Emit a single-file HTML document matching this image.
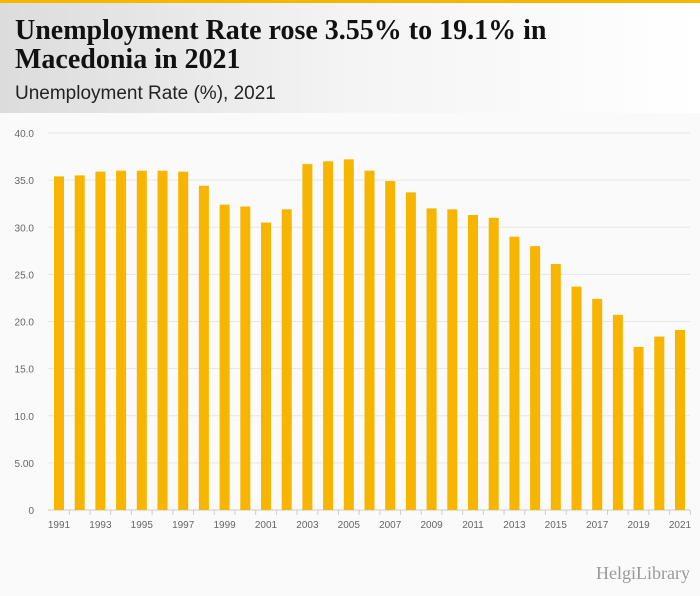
<!DOCTYPE html>
<html><head><meta charset="utf-8"><style>
body{margin:0;width:700px;height:596px;background:#fafafa;font-family:"Liberation Sans",sans-serif;overflow:hidden;position:relative}
#hdr{position:absolute;left:0;top:0;width:700px;height:113px;background:linear-gradient(90deg,#dcdcdc 0%,#f4f4f4 50%,#fff 100%);border-top:3px solid #f7b500;box-sizing:border-box}
h1{position:absolute;left:15px;top:13px;margin:0;font-family:"Liberation Serif",serif;font-weight:bold;font-size:28px;line-height:29px;color:#111;width:620px}
#sub{position:absolute;left:15px;top:80px;font-size:19px;color:#222}
svg{position:absolute;left:0;top:0}
</style></head><body>
<div id="hdr">
<h1>Unemployment Rate rose 3.55% to 19.1% in Macedonia in 2021</h1>
<div id="sub">Unemployment Rate (%), 2021</div>
</div>
<svg id="c" width="700" height="596"></svg>
<script>
const years=[1991,1992,1993,1994,1995,1996,1997,1998,1999,2000,2001,2002,2003,2004,2005,2006,2007,2008,2009,2010,2011,2012,2013,2014,2015,2016,2017,2018,2019,2020,2021];
const values=[35.4,35.5,35.9,36.0,36.0,36.0,35.9,34.4,32.4,32.2,30.5,31.9,36.7,37.0,37.2,36.0,34.9,33.7,32.0,31.9,31.3,31.0,29.0,28.0,26.1,23.7,22.4,20.7,17.3,18.4,19.1];
const ticks=[0,5,10,15,20,25,30,35,40];
const tickLabels=["0","5.00","10.0","15.0","20.0","25.0","30.0","35.0","40.0"];
const NS="http://www.w3.org/2000/svg",svg=document.getElementById('c');
const y=v=>510-v*(377/40), x=i=>59+i*(621/30);
function mk(t,a,p){const e=document.createElementNS(NS,t);for(const k in a)e.setAttribute(k,a[k]);(p||svg).appendChild(e);return e;}
ticks.forEach((t,i)=>{
 const g=mk('line',{x1:48,x2:690,y1:y(t),y2:y(t),stroke:i?'#e6e6e6':'#ccc','stroke-width':1});
 
 
 const l=mk('text',{x:34,y:y(t)+4,'text-anchor':'end','font-size':10,fill:'#666'});l.textContent=tickLabels[i];
 
 
});
values.forEach((v,i)=>{
 const r=mk('rect',{x:x(i)-5,y:y(v),width:10,height:510-y(v),fill:'#f7b500'});
 
 
 if(i%2==0){const t=mk('text',{x:x(i),y:528,'text-anchor':'middle','font-size':10,fill:'#666'});t.textContent=years[i];
 
 }
 const tk=mk('line',{x1:x(i)+10.35,x2:x(i)+10.35,y1:510,y2:515,stroke:'#ccc'});
 
 
});
const lg=mk('text',{x:690,y:579,'text-anchor':'end','font-size':18,fill:'#999','font-family':'Liberation Serif,serif'});lg.textContent='HelgiLibrary';


</script>
</body></html>
